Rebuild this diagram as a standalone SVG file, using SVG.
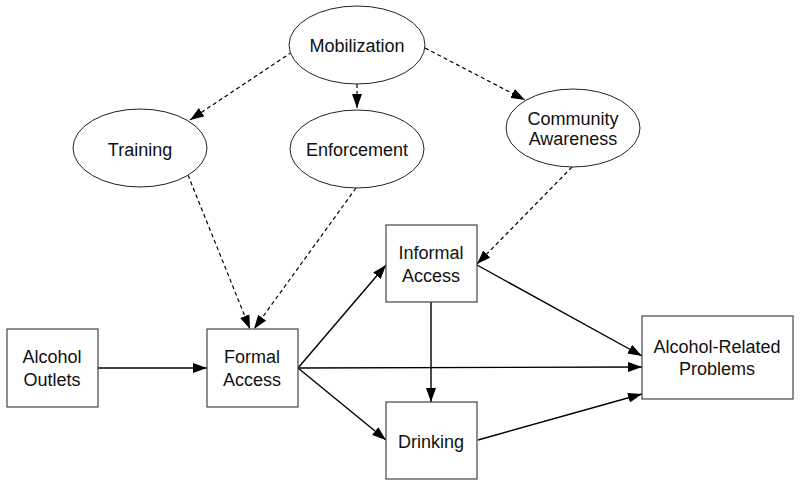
<svg xmlns="http://www.w3.org/2000/svg" width="800" height="486" viewBox="0 0 800 486">
<style>
text{font-family:"Liberation Sans",Arial,sans-serif;font-size:18px;fill:#111;text-anchor:middle}
.n{fill:#fff;stroke:#444;stroke-width:1.2}
.e{fill:#fff;stroke:#222;stroke-width:1}
.c{stroke:#000;stroke-width:1.4;fill:none;marker-end:url(#ah)}
.d{stroke:#000;stroke-width:1.2;fill:none;stroke-dasharray:4 3;marker-end:url(#ah)}
</style>
<defs>
<marker id="ah" viewBox="0 0 14 10" refX="14" refY="5" markerWidth="14" markerHeight="10" markerUnits="userSpaceOnUse" orient="auto">
<path d="M0,0 L14,5 L0,10 Z" fill="#000"/>
</marker>
</defs>
<rect width="800" height="486" fill="#fff"/>
<g id="connectors">
<line class="d" x1="292" y1="52" x2="190" y2="120"/>
<line class="d" x1="357" y1="84" x2="357" y2="108"/>
<line class="d" x1="425" y1="48" x2="525" y2="100"/>
<line class="d" x1="188" y1="175" x2="250" y2="329"/>
<line class="d" x1="356" y1="188" x2="254" y2="329"/>
<line class="d" x1="572" y1="167" x2="477" y2="264"/>
<line class="c" x1="98" y1="368" x2="207" y2="368"/>
<line class="c" x1="298" y1="368" x2="386" y2="265"/>
<line class="c" x1="298" y1="368" x2="642" y2="367"/>
<line class="c" x1="298" y1="368" x2="386" y2="440"/>
<line class="c" x1="431" y1="302" x2="431" y2="402"/>
<line class="c" x1="477" y1="265" x2="642" y2="356"/>
<line class="c" x1="478" y1="440" x2="642" y2="394"/>
</g>
<g id="mobilization"><ellipse class="e" cx="357" cy="45" rx="68" ry="39"/><text x="357" y="52">Mobilization</text></g>
<g id="training"><ellipse class="e" cx="140" cy="148" rx="67" ry="39"/><text x="140" y="156">Training</text></g>
<g id="enforcement"><ellipse class="e" cx="357" cy="149" rx="67" ry="39"/><text x="357" y="156">Enforcement</text></g>
<g id="community"><ellipse class="e" cx="573" cy="128" rx="67" ry="39"/><text x="573" y="125">Community</text><text x="573" y="145">Awareness</text></g>
<g id="outlets"><rect class="n" x="7" y="329" width="91" height="78"/><text x="52" y="363">Alcohol</text><text x="52" y="386">Outlets</text></g>
<g id="formal"><rect class="n" x="207" y="329" width="91" height="78"/><text x="252" y="363">Formal</text><text x="252" y="386">Access</text></g>
<g id="informal"><rect class="n" x="386" y="225" width="91" height="77"/><text x="431" y="259">Informal</text><text x="431" y="282">Access</text></g>
<g id="drinking"><rect class="n" x="386" y="402" width="91" height="77"/><text x="431" y="448">Drinking</text></g>
<g id="problems"><rect class="n" x="642" y="316" width="151" height="83"/><text x="717" y="353">Alcohol-Related</text><text x="717" y="375">Problems</text></g>
</svg>
